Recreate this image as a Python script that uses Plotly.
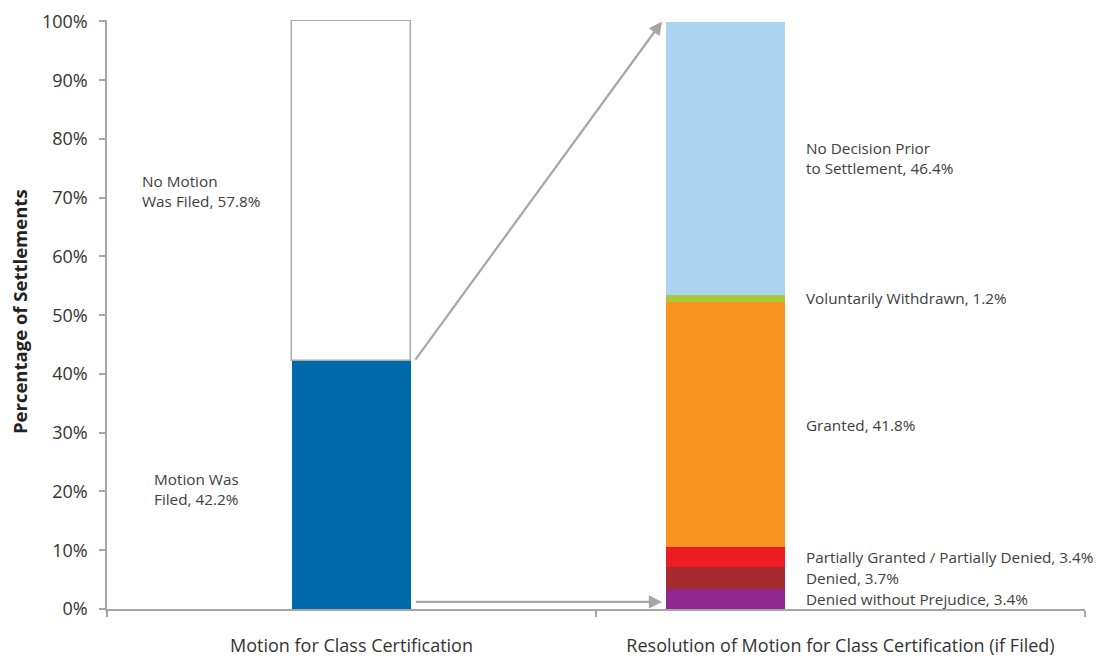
import plotly.graph_objects as go

categories = ["Motion for Class Certification",
              "Resolution of Motion for Class Certification (if Filed)"]

# Bar 1: Motion for class certification (bottom to top)
motion_labels = ["Motion Was<br>Filed, 42.2%", "No Motion<br>Was Filed, 57.8%"]
motion_values = [42.2, 57.8]
motion_colors = ["#0069aa", "#ffffff"]

# Bar 2: Resolution (bottom to top)
res_labels = ["Denied without Prejudice, 3.4%", "Denied, 3.7%",
              "Partially Granted / Partially Denied, 3.4%", "Granted, 41.8%",
              "Voluntarily Withdrawn, 1.2%", "No Decision Prior<br>to Settlement, 46.4%"]
res_values = [3.4, 3.7, 3.4, 41.8, 1.2, 46.4]
res_colors = ["#8e278f", "#a62b30", "#ed1c24", "#f7941d", "#a5c93a", "#acd4f0"]

y_ticks = [0, 10, 20, 30, 40, 50, 60, 70, 80, 90, 100]
y_title = "Percentage of Settlements"

FONT = "Open Sans, Noto Sans, sans-serif"
TXT = "#404040"
GRAY = "#a6a6a6"

BAR_W = 0.243
BAR2_OFF = -0.357  # bar 2 left edge relative to its category centre

fig = go.Figure()

base = 0
for lab, v, c in zip(motion_labels, motion_values, motion_colors):
    is_white = c == "#ffffff"
    fig.add_trace(go.Bar(
        x=[categories[0]], y=[v], base=[base], width=BAR_W,
        marker=dict(color=c, line=dict(color="#aaaaaa" if is_white else c,
                                       width=1.5 if is_white else 0)),
        cliponaxis=False, showlegend=False, hoverinfo="skip"))
    base += v

base = 0
for lab, v, c in zip(res_labels, res_values, res_colors):
    fig.add_trace(go.Bar(
        x=[categories[1]], y=[v], base=[base], width=BAR_W, offset=BAR2_OFF,
        marker=dict(color=c, line=dict(width=0)),
        showlegend=False, hoverinfo="skip"))
    base += v

LABEL_FONT = dict(family=FONT, size=15.3, color=TXT)
annotations = []
# left labels
label_x = [-0.408, -0.4325]
label_dy = [-4, 0]
cum = 0
for lab, v, lx, dy in zip(motion_labels, motion_values, label_x, label_dy):
    annotations.append(dict(x=lx, y=cum + v / 2, xref="x", yref="y", text=lab,
                            showarrow=False, xanchor="left", yanchor="middle",
                            yshift=dy, align="left", font=LABEL_FONT))
    cum += v
# right labels
cum = 0
for lab, v in zip(res_labels, res_values):
    annotations.append(dict(x=0.925, y=cum + v / 2, xref="x", yref="y", text=lab,
                            showarrow=False, xanchor="left", yanchor="middle",
                            align="left", font=LABEL_FONT))
    cum += v

# y-axis title
annotations.append(dict(x=-0.0895, y=0.505, xref="paper", yref="paper",
                        text=f"<b>{y_title}</b>", textangle=-90, showarrow=False,
                        xanchor="center", yanchor="middle",
                        font=dict(family=FONT, size=18.5, color="#222222")))

# arrows
tail_x = BAR_W / 2 + 0.007
head_x = 1 + BAR2_OFF - 0.008
annotations.append(dict(x=head_x, y=sum(res_values) + 0.1, ax=tail_x, ay=motion_values[0],
                        xref="x", yref="y", axref="x", ayref="y", text="",
                        showarrow=True, arrowhead=2, arrowsize=1.2, arrowwidth=2.2,
                        arrowcolor=GRAY))
annotations.append(dict(x=head_x, y=1.2, ax=tail_x, ay=1.2,
                        xref="x", yref="y", axref="x", ayref="y", text="",
                        showarrow=True, arrowhead=2, arrowsize=1.2, arrowwidth=2.2,
                        arrowcolor=GRAY))

fig.update_layout(
    width=1100, height=656,
    margin=dict(l=107, r=15, t=20, b=47, autoexpand=False),
    paper_bgcolor="white", plot_bgcolor="white",
    barmode="overlay", bargap=0,
    showlegend=False,
    font=dict(family=FONT, color="#333333"),
    annotations=annotations,
    xaxis=dict(type="category", categoryorder="array", categoryarray=categories,
               range=[-0.5, 1.5], showline=True, linecolor=GRAY, linewidth=1.5,
               ticks="outside", tickson="boundaries", ticklen=6, tickcolor=GRAY,
               tickwidth=1.5, showgrid=False, zeroline=False, automargin=False,
               ticklabelstandoff=20,
               tickfont=dict(family=FONT, size=18, color="#333333")),
    yaxis=dict(range=[0, 100.25], tickvals=y_ticks,
               ticktext=[f"{t}%" for t in y_ticks],
               showline=True, linecolor=GRAY, linewidth=1.5,
               ticks="outside", ticklen=6, tickcolor=GRAY, tickwidth=1.5,
               showgrid=False, zeroline=False, automargin=False,
               ticklabelstandoff=8, ticklabeloverflow="allow",
               tickfont=dict(family=FONT, size=18, color="#333333")),
)

# remove the default 8px page margin so the figure fills the window exactly
fig.write_html("out.html", config={"displayModeBar": False},
               post_script="document.body.style.margin='0px';")
